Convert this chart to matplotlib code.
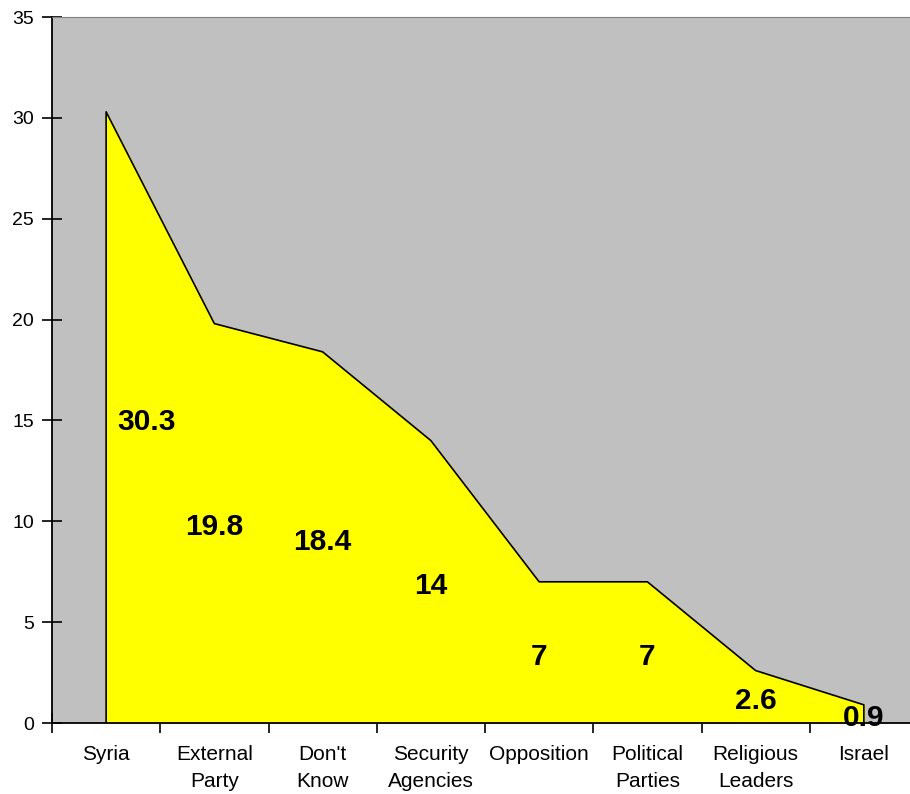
import matplotlib.pyplot as plt
import numpy as np

plt.rcParams['font.family'] = ['Liberation Sans', 'DejaVu Sans']

categories = ['Syria', 'External\nParty', "Don't\nKnow", 'Security\nAgencies',
              'Opposition', 'Political\nParties', 'Religious\nLeaders', 'Israel']
values = [30.3, 19.8, 18.4, 14, 7, 7, 2.6, 0.9]
value_labels = ['30.3', '19.8', '18.4', '14', '7', '7', '2.6', '0.9']

x = np.arange(len(categories))

fig = plt.figure(figsize=(9.10, 7.94), dpi=100)
ax = fig.add_axes([52/910, 71/794, 866/910, 706/794])
ax.set_facecolor('#C0C0C0')

ax.fill_between(x, 0, values, color='yellow', zorder=2)
ax.plot(np.r_[x[0], x, x[-1]], np.r_[0, values, 0], color='black', lw=1.2, zorder=3)

# data labels sit halfway up each point, first one nudged inside the area
for i, (v, t) in enumerate(zip(values, value_labels)):
    dx = 0.37 if i == 0 else 0
    ax.annotate(t, (x[i] + dx, v / 2), xytext=(0, -3), textcoords='offset points',
                ha='center', va='center', fontsize=21.5, fontweight='bold', zorder=4)

ax.set_xlim(-0.5, len(categories) - 0.5)
ax.set_ylim(0, 35)
ax.set_yticks(np.arange(0, 36, 5))
ax.set_xticks(np.arange(-0.5, len(categories), 1))
ax.set_xticklabels([])
ax.set_xticks(x, minor=True)
ax.set_xticklabels(categories, minor=True, linespacing=1.55)
ax.tick_params(axis='x', which='minor', length=0, pad=16, labelsize=15)
ax.tick_params(axis='x', which='major', length=14, direction='inout', width=1.2)
ax.tick_params(axis='y', length=14, width=1.2, direction='inout', labelsize=14, pad=6)

ax.spines['top'].set_color('#808080')
ax.spines['right'].set_visible(False)
ax.spines['left'].set_linewidth(1.3)
ax.spines['bottom'].set_linewidth(1.3)

plt.savefig('out.png', dpi=100)
